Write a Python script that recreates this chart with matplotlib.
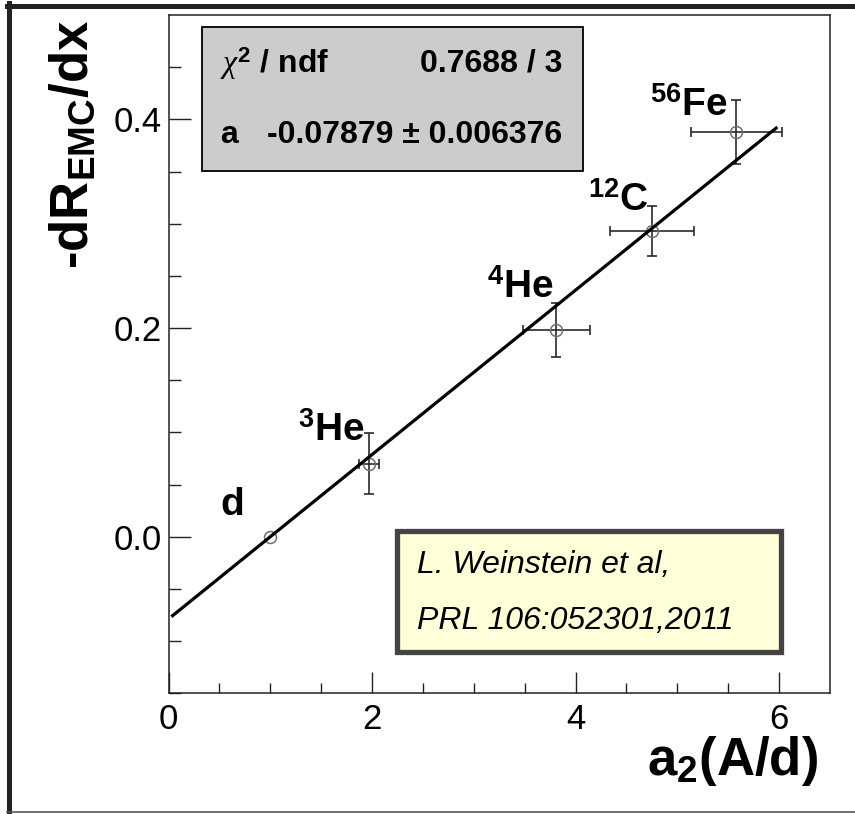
import numpy as np
from matplotlib import pyplot as plt
from matplotlib.patches import Rectangle
from matplotlib.lines import Line2D

plt.rcParams['font.family'] = 'Liberation Sans'
plt.rcParams['mathtext.fontset'] = 'custom'
plt.rcParams['mathtext.rm'] = 'Liberation Sans:bold'
plt.rcParams['mathtext.bf'] = 'Liberation Sans:bold'
plt.rcParams['mathtext.it'] = 'Liberation Serif:italic'

# data
nuclei = ['d', '$^{3}$He', '$^{4}$He', '$^{12}$C', '$^{56}$Fe']
a2 = [1.0, 1.97, 3.81, 4.75, 5.58]
a2_err = [0.0, 0.10, 0.33, 0.41, 0.45]
emc_slope = [0.0, 0.070, 0.198, 0.293, 0.388]
emc_err = [0.0, 0.029, 0.026, 0.024, 0.031]

# where the nucleus names sit (left edge, baseline)
label_x = [0.51, 1.27, 3.13, 4.12, 4.73]
label_y = [0.021, 0.092, 0.229, 0.312, 0.403]

# fit result: y = a * (1 - x)
fit_a = -0.07879
fit_a_err = 0.006376
chi2 = 0.7688
ndf = 3
fit_range = (0.04, 5.97)

fig = plt.figure(figsize=(8.55, 8.14), dpi=100)
ax = fig.add_axes([0.1971, 0.1483, 0.7737, 0.8333])

x = np.array(a2)
y = np.array(emc_slope)
xe = np.array(a2_err)
ye = np.array(emc_err)
has_err = (xe > 0) | (ye > 0)

ax.errorbar(x[has_err], y[has_err], xerr=xe[has_err], yerr=ye[has_err], fmt='none',
            ecolor='#2a2a2a', elinewidth=1.2, capsize=3.3, capthick=1.2, zorder=2)
ax.plot(x, y, 'o', mfc='none', mec='#707070', mew=1.1, ms=8.6, zorder=3)

fx = np.linspace(fit_range[0], fit_range[1], 50)
ax.plot(fx, fit_a * (1 - fx), color='black', lw=2.3, zorder=4)

for name, lx, ly in zip(nuclei, label_x, label_y):
    ax.text(lx, ly, name, fontsize=28, fontweight='bold', ha='left', va='baseline')

ax.set_xlim(0, 6.5)
ax.set_ylim(-0.15, 0.5)
ax.set_xticks([0, 2, 4, 6])
ax.set_xticks(np.arange(0, 6.5, 0.5), minor=True)
ax.set_yticks([0.0, 0.2, 0.4])
ax.set_yticks(np.arange(-0.15, 0.5, 0.05), minor=True)
ax.set_yticklabels(['0.0', '0.2', '0.4'])
ax.tick_params(which='both', direction='in', width=1.0, labelsize=25, color='#222222')
ax.tick_params(axis='x', which='major', length=15, pad=7)
ax.tick_params(axis='x', which='minor', length=7.5)
ax.tick_params(axis='y', which='major', length=16, pad=5)
ax.tick_params(axis='y', which='minor', length=8.5)
for s in ax.spines.values():
    s.set_linewidth(1.1)
    s.set_color('#222222')

ax.text(-0.1217, 0.9926, r'-dR$_{\rm EMC}$/dx', transform=ax.transAxes, fontsize=38,
        fontweight='bold', rotation=90, rotation_mode='anchor', ha='right', va='baseline')
ax.text(0.982, -0.1204, r'a$_{2}$(A/d)', transform=ax.transAxes, fontsize=38,
        fontweight='bold', ha='right', va='baseline')

# fit statistics box
ax.add_patch(Rectangle((0.0511, 0.770), 0.5751, 0.2127, transform=ax.transAxes,
                       facecolor='#cccccc', edgecolor='black', lw=1.3, zorder=5))
ax.text(0.0779, 0.929, r'$\chi^{2}$ / ndf', transform=ax.transAxes, fontsize=23,
        fontweight='bold', ha='left', va='center', zorder=6)
ax.text(0.5953, 0.929, f'{chi2} / {ndf}', transform=ax.transAxes, fontsize=23,
        fontweight='bold', ha='right', va='center', zorder=6)
ax.text(0.0779, 0.823, 'a', transform=ax.transAxes, fontsize=23,
        fontweight='bold', ha='left', va='center', zorder=6)
ax.text(0.5953, 0.823, f'{fit_a} \u00b1 {fit_a_err}', transform=ax.transAxes, fontsize=23,
        fontweight='bold', ha='right', va='center', zorder=6)

# reference box
ax.add_patch(Rectangle((0.3455, 0.0611), 0.5807, 0.1778, transform=ax.transAxes,
                       facecolor='#ffffd9', edgecolor='#444444', lw=3.8, zorder=5))
ax.text(0.3752, 0.1778, 'L. Weinstein et al,', transform=ax.transAxes, fontsize=23,
        style='italic', ha='left', va='baseline', zorder=6)
ax.text(0.3752, 0.0948, 'PRL 106:052301,2011', transform=ax.transAxes, fontsize=23,
        style='italic', ha='left', va='baseline', zorder=6)

# canvas frame
fig.add_artist(Line2D([0.0111, 0.0111], [0.0025, 0.9963], color='#222222', lw=3.6))
fig.add_artist(Line2D([0.0082, 1.0], [0.9932, 0.9932], color='#222222', lw=3.6))
fig.add_artist(Line2D([0.0082, 1.0], [0.0025, 0.0025], color='#555555', lw=1.2))

fig.savefig('out.png', dpi=100)
